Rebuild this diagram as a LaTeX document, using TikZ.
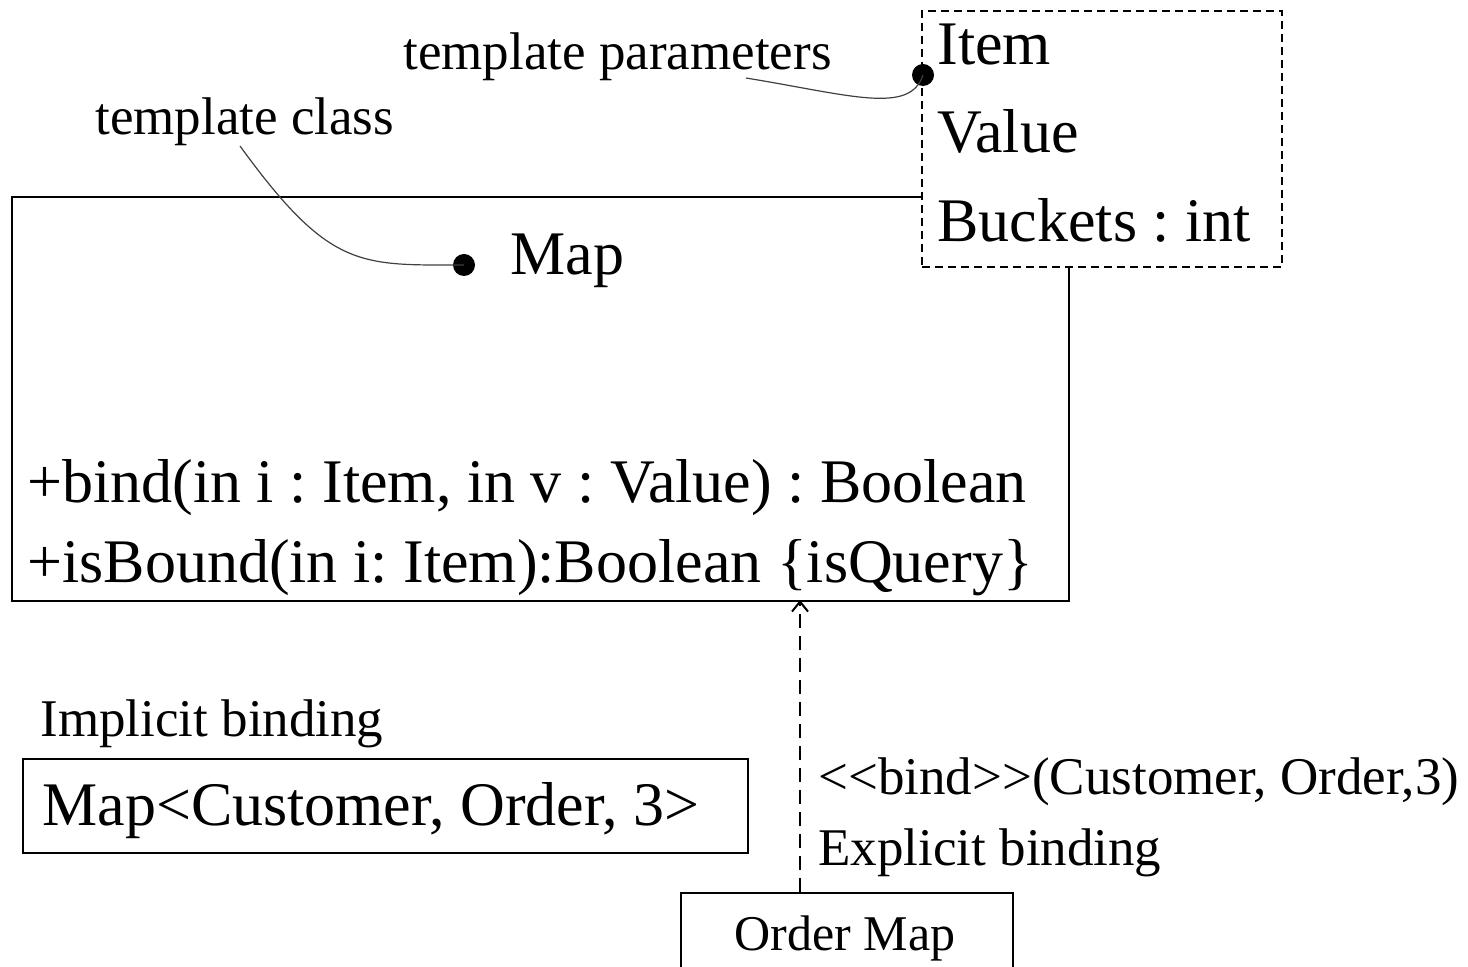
\documentclass[tikz,border=0pt]{standalone}
\usepackage{fontspec}
\setmainfont{Liberation Serif}
\usetikzlibrary{arrows.meta,positioning}
\frenchspacing

\begin{document}
\begin{tikzpicture}[x=0.5pt,y=-0.5pt,
    bigtext/.style={font=\fontsize{31}{36}\selectfont, inner sep=0pt, anchor=base west},
    smalltext/.style={font=\fontsize{26.5}{31}\selectfont, inner sep=0pt, anchor=base west},
    classbox/.style={draw, line width=1pt},
    dot/.style={circle, fill=black, inner sep=0pt, minimum size=11pt},
    noteline/.style={line width=0.6pt, black!75}
]
    \clip (0,0) rectangle (1468,967);

    % template class box
    \node[classbox, minimum width=528.5pt, minimum height=202pt, anchor=north west] (mapclass) at (11,196) {};
    \node[bigtext] (mapname) at (510,275) {Map};
    \node[bigtext] (opbind) at (27,503) {+bind(in i : Item, in v : Value) : Boolean};
    \node[bigtext] (opbound) at (27,583) {+isBound(in i: Item):Boolean \{isQuery\}};

    % template parameters
    \node[draw, dashed, dash pattern=on 4pt off 2.5pt, line width=0.8pt, fill=white,
          minimum width=180pt, minimum height=128pt, anchor=north west] (params) at (921,10) {};
    \node[bigtext] (pitem) at (937,65) {Item};
    \node[bigtext] (pvalue) at (937,153) {Value};
    \node[bigtext] (pbuckets) at (937,242) {Buckets : int};

    % notes
    \node[smalltext] (notepar) at (403,70) {template parameters};
    \node[smalltext] (notecls) at (95,135) {template class};
    \node[dot] (pardot) at (923,75) {};
    \node[dot] (clsdot) at (464,265) {};
    \coordinate (parstart) at (746,78);
    \coordinate (clsstart) at (240,146);
    \draw[noteline] (parstart) .. controls (850,95) and (910,115) .. (pardot.center);
    \draw[noteline] (clsstart) .. controls (330,270) and (360,265) .. (clsdot.center);

    % implicit binding
    \node[smalltext] (implabel) at (40,737) {Implicit binding};
    \node[classbox, minimum width=362.5pt, minimum height=47pt, anchor=north west] (implbox) at (22,758) {};
    \node[bigtext] (impltext) at (42,826) {Map<Customer, Order, 3>};

    % explicit binding
    \node[draw, line width=1pt, minimum width=166pt, minimum height=60pt, anchor=north west] (orderbox) at (680,892) {};
    \node[font=\fontsize{25}{30}\selectfont, inner sep=0pt, anchor=base] (ordertext) at (845,950) {Order Map};
    \coordinate (bindtop) at (800,600);
    \coordinate (bindbot) at (800,892);
    \draw[dashed, dash pattern=on 7pt off 4pt, line width=1pt, -{Straight Barb[length=5pt,width=8pt]}] (bindbot) -- (bindtop);
    \node[smalltext] (bindlabel) at (818,795) {<{}<bind>{}>(Customer, Order,3)};
    \node[smalltext] (explabel) at (818,865) {Explicit binding};
\end{tikzpicture}
\end{document}
